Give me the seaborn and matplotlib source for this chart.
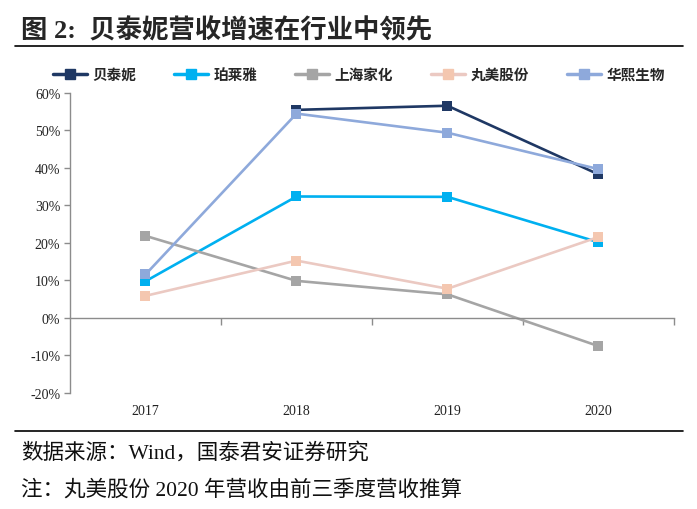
import numpy as np
import pandas as pd
import matplotlib
matplotlib.use("Agg")
import matplotlib.pyplot as plt
from matplotlib.ticker import FuncFormatter, FixedLocator
from matplotlib.lines import Line2D
import seaborn as sns

years = ["2017", "2018", "2019", "2020"]
companies = ["贝泰妮", "珀莱雅", "上海家化", "丸美股份", "华熙生物"]
v_btn = [np.nan, 55.5, 56.6, 38.3]
v_ply = [9.8, 32.4, 32.3, 20.2]
v_shjh = [21.9, 9.9, 6.3, -7.5]
v_wm = [5.9, 15.3, 7.8, 21.6]
v_hx = [11.6, 54.5, 49.4, 39.7]
colors = ["#1F3864", "#00B0F0", "#A5A5A5", "#F4C7B0", "#8EA9DB"]
line_colors = ["#1F3864", "#00B0F0", "#A5A5A5", "#EBC9C2", "#8EA9DB"]

series = [v_btn, v_ply, v_shjh, v_wm, v_hx]
rows = []
for c, vals in zip(companies, series):
    for i, (y, v) in enumerate(zip(years, vals)):
        rows.append({"company": c, "x": i, "year": y, "value": v})
df = pd.DataFrame(rows)

sns.set_theme(style="white")
plt.rcParams['font.family'] = ['Noto Sans CJK SC', 'DejaVu Sans']

fig = plt.figure(figsize=(6.97, 5.10), dpi=100)
ax = fig.add_axes([0.1004, 0.2275, 0.8666, 0.5882])

sns.lineplot(data=df, x="x", y="value", hue="company", palette=dict(zip(companies, line_colors)),
             hue_order=companies, marker="s", markersize=7, linewidth=1.9, ax=ax, legend=False,
             markeredgewidth=0)
for line, col in zip(ax.get_lines(), colors):
    line.set_markerfacecolor(col)
    line.set_markeredgecolor(col)

ax.set_xlim(-0.5, 3.5)
ax.set_ylim(-20, 60)
ax.set_yticks(np.arange(-20, 61, 10))
ax.yaxis.set_major_formatter(FuncFormatter(lambda v, p: f"{int(round(v))}%"))
ax.set_xlabel("")
ax.set_ylabel("")

for s in ["top", "right"]:
    ax.spines[s].set_visible(False)
ax.spines["left"].set_color("#8C8C8C")
ax.spines["left"].set_linewidth(1.0)
ax.spines["bottom"].set_position(("data", 0))
ax.spines["bottom"].set_color("#8C8C8C")
ax.spines["bottom"].set_linewidth(1.0)

ax.tick_params(axis="y", which="major", direction="out", length=4, width=1.0, color="#8C8C8C",
               left=True, labelsize=10, pad=3, labelcolor="#222222")
ax.set_xticks(range(len(years)))
ax.set_xticklabels(years)
ax.xaxis.set_minor_locator(FixedLocator([0.5, 1.5, 2.5, 3.5]))
ax.tick_params(axis="x", which="major", length=0, pad=62, labelsize=10, labelcolor="#222222")
ax.tick_params(axis="x", which="minor", direction="out", length=5, width=1.0, color="#8C8C8C", bottom=True)
for lab in ax.get_xticklabels() + ax.get_yticklabels():
    lab.set_fontfamily("Liberation Serif")

handles = [Line2D([0], [0], color=lc, lw=2.5, marker="s", markersize=7, markerfacecolor=mc,
                  markeredgecolor=mc) for lc, mc in zip(line_colors, colors)]
fig.legend(handles, companies, loc="center", bbox_to_anchor=(0.515, 0.853), ncol=5, frameon=False,
           prop={"family": "Noto Sans CJK SC", "weight": "bold", "size": 10.5},
           handlelength=2.3, columnspacing=2.6, handletextpad=0.4)

fig.text(0.03, 0.94, "图 2:  贝泰妮营收增速在行业中领先", fontsize=19, fontweight="bold",
         family=["Liberation Serif", "Noto Sans CJK SC"], va="center", ha="left")
fig.add_artist(Line2D([0.022, 0.98], [0.908, 0.908], color="black", lw=1.2, transform=fig.transFigure))
fig.add_artist(Line2D([0.022, 0.98], [0.153, 0.153], color="black", lw=1.2, transform=fig.transFigure))
fig.text(0.03, 0.112, "数据来源：Wind，国泰君安证券研究", fontsize=15.5,
         family=["Liberation Serif", "Noto Sans CJK SC"], va="center", ha="left", color="#111111")
fig.text(0.03, 0.038, "注：丸美股份 2020 年营收由前三季度营收推算", fontsize=15.5,
         family=["Liberation Serif", "Noto Sans CJK SC"], va="center", ha="left", color="#111111")

fig.savefig("out.png", dpi=100, facecolor="white")
